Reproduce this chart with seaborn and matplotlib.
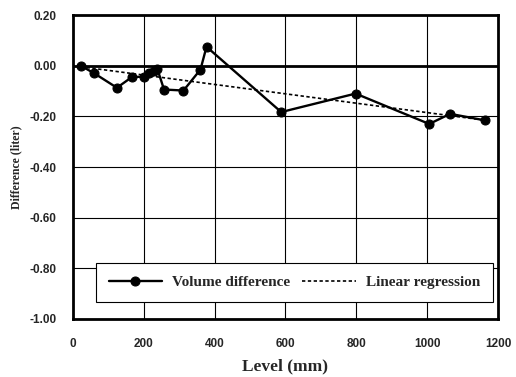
import numpy as np
import pandas as pd
import seaborn as sns
import matplotlib.pyplot as plt

# --- data ---
level_mm = [22, 60, 124, 166, 200, 215, 229, 238, 257, 312, 360, 377,
            588, 798, 1006, 1065, 1164]
diff_liter = [0.00, -0.03, -0.087, -0.045, -0.043, -0.03, -0.02, -0.012,
              -0.094, -0.098, -0.015, 0.075, -0.183, -0.11, -0.23, -0.19, -0.216]

x_ticks = [0, 200, 400, 600, 800, 1000, 1200]
y_ticks = [0.20, 0.00, -0.20, -0.40, -0.60, -0.80, -1.00]
y_tick_labels = ["0.20", "0.00", "-0.20", "-0.40", "-0.60", "-0.80", "-1.00"]

df = pd.DataFrame({"level": level_mm, "diff": diff_liter})

# linear regression through the measured points
slope, intercept = np.polyfit(df["level"], df["diff"], 1)
reg = pd.DataFrame({"level": [df["level"].min(), df["level"].max()]})
reg["diff"] = intercept + slope * reg["level"]

sns.set_style("white")
fig = plt.figure(figsize=(5.16, 3.77), dpi=100)
ax = fig.add_axes([0.1415, 0.154, 0.8235, 0.806])

# grid
for xv in x_ticks[1:-1]:
    ax.axvline(xv, color="black", lw=0.8, zorder=0)
for yv in y_ticks:
    ax.axhline(yv, color="black", lw=0.8, zorder=0)
ax.axhline(0, color="black", lw=2.0, zorder=1)

sns.lineplot(data=df, x="level", y="diff", ax=ax, color="black", lw=1.7,
             marker="o", markersize=6.5, markeredgecolor="black",
             label="Volume difference", zorder=3)
sns.lineplot(data=reg, x="level", y="diff", ax=ax, color="black", lw=1.2,
             linestyle=(0, (2, 1.5)), label="Linear regression", zorder=2)

ax.set_xlim(0, 1200)
ax.set_ylim(-1.0, 0.2)
ax.set_xticks(x_ticks)
ax.set_yticks(y_ticks)
ax.set_yticklabels(y_tick_labels)
for lab in ax.get_xticklabels() + ax.get_yticklabels():
    lab.set_fontfamily("Liberation Sans")
    lab.set_fontweight("bold")
    lab.set_fontsize(8.5)
ax.tick_params(axis="x", length=0, pad=14)
ax.tick_params(axis="y", length=0, pad=12)

ax.set_xlabel("Level (mm)", fontfamily="Liberation Serif", fontweight="bold",
              fontsize=12.5, labelpad=6)
ax.set_ylabel("Difference (liter)", fontfamily="Liberation Serif", fontweight="bold",
              fontsize=8.5, labelpad=5)

for sp in ax.spines.values():
    sp.set_color("black")
    sp.set_linewidth(2.0)

leg = ax.legend(loc="center", bbox_to_anchor=(0.521, 0.12), ncol=2,
                prop={"family": "Liberation Serif", "weight": "bold", "size": 11},
                frameon=True, fancybox=False, edgecolor="black",
                handlelength=3.5, columnspacing=0.8, borderpad=0.85,
                handletextpad=0.65)
leg.get_frame().set_linewidth(0.8)
leg.get_frame().set_alpha(1)

fig.savefig("out.png", dpi=100)
